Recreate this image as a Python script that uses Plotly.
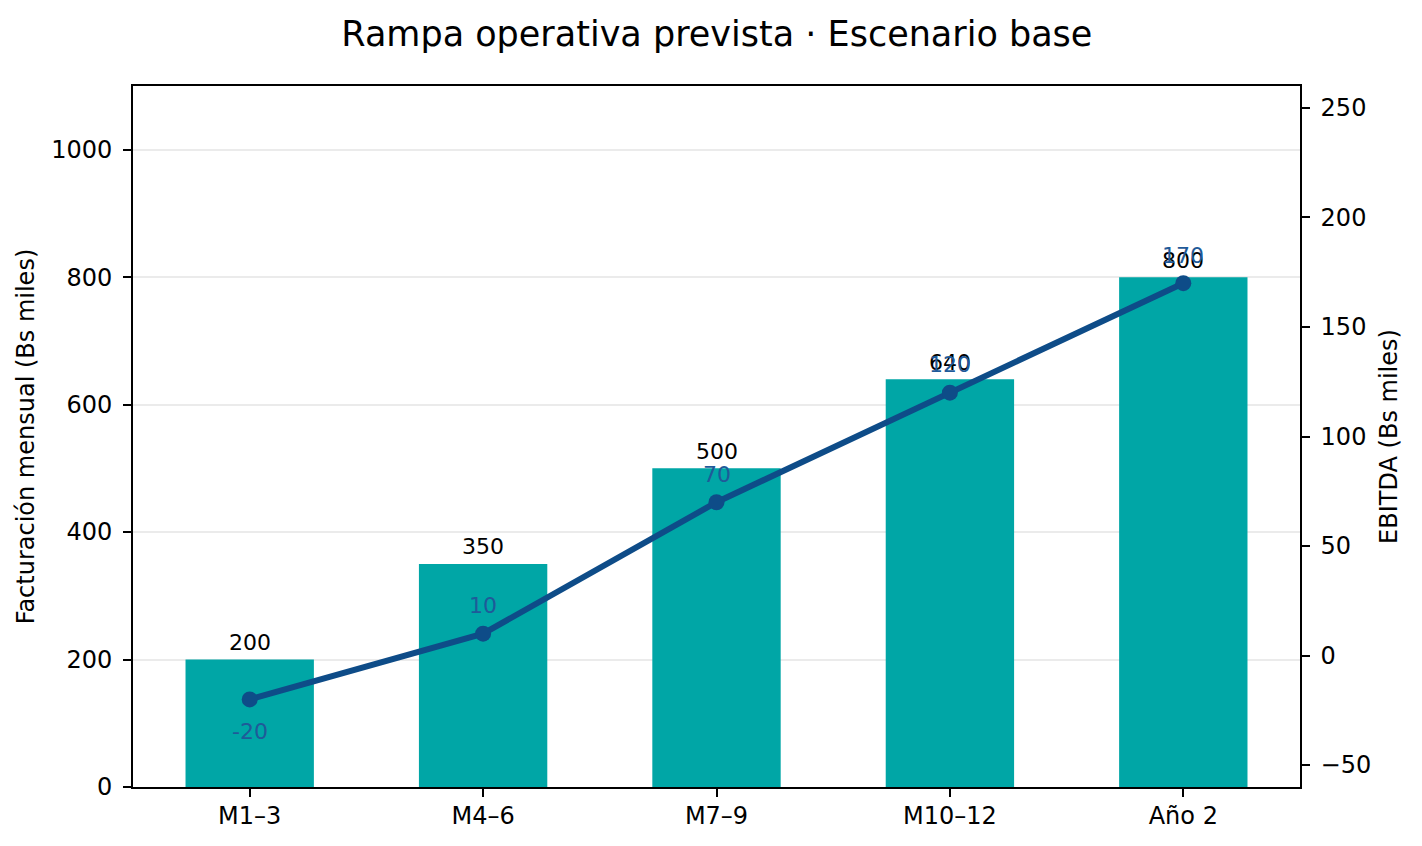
import plotly.graph_objects as go

# Datos de la rampa operativa (Bs miles)
periodos = ['M1–3', 'M4–6', 'M7–9', 'M10–12', 'Año 2']
facturacion = [200, 350, 500, 640, 800]
ebitda = [-20, 10, 70, 120, 170]

color_barra = '#00A6A6'
color_linea = '#0E4C88'
color_texto_ebitda = '#1F5A99'
fuente = 'DejaVu Sans'

fig = go.Figure()
fig.add_trace(go.Bar(
    x=periodos, y=facturacion, width=0.55,
    marker_color=color_barra, marker_line_width=0,
    name='Facturación', yaxis='y'
))
fig.add_trace(go.Scatter(
    x=periodos, y=ebitda, mode='lines+markers',
    line=dict(color=color_linea, width=6),
    marker=dict(color=color_linea, size=16),
    name='EBITDA', yaxis='y2'
))

# etiquetas de valores
anotaciones = []
for p, v in zip(periodos, facturacion):
    anotaciones.append(dict(x=p, y=v, xref='x', yref='y', text=str(v),
                            showarrow=False, yshift=17,
                            font=dict(family=fuente, size=22, color='black')))
for p, v in zip(periodos, ebitda):
    anotaciones.append(dict(x=p, y=v, xref='x', yref='y2', text=str(v),
                            showarrow=False, yshift=-32 if v < 0 else 28,
                            font=dict(family=fuente, size=22, color=color_texto_ebitda)))

# la página añade 8 px de margen al cuerpo, se compensa en los márgenes
fig.update_layout(
    width=1422, height=846,
    paper_bgcolor='white', plot_bgcolor='white',
    margin=dict(l=125, r=130, t=78, b=67),
    showlegend=False,
    font=dict(family=fuente, size=24, color='black'),
    title=dict(text='Rampa operativa prevista · Escenario base', x=0.4985, xanchor='center',
               y=0.969, yanchor='middle', font=dict(family=fuente, size=35)),
    xaxis=dict(range=[-0.5, 4.5], showline=True, linecolor='black', linewidth=1.6,
               mirror=True, ticks='outside', ticklen=8, tickwidth=1.6, tickcolor='black',
               ticklabelstandoff=-2,
               showgrid=False, tickfont=dict(size=24)),
    yaxis=dict(range=[0, 1100], dtick=200, showline=True, linecolor='black', linewidth=1.6,
               ticks='outside', ticklen=8, tickwidth=1.6, tickcolor='black',
               ticklabelstandoff=6, layer='above traces',
               showgrid=True, gridcolor='rgba(176,176,176,0.25)', gridwidth=1.5,
               zeroline=False,
               title=dict(text='Facturación mensual (Bs miles)', standoff=10,
                          font=dict(size=24)),
               tickfont=dict(size=24)),
    yaxis2=dict(range=[-60, 260], dtick=50, overlaying='y', side='right',
                showline=True, linecolor='black', linewidth=1.6,
                ticks='outside', ticklen=8, tickwidth=1.6, tickcolor='black',
                ticklabelstandoff=6,
                showgrid=False, zeroline=False, tickformat='d',
                title=dict(text='EBITDA (Bs miles)', standoff=10, font=dict(size=24)),
                tickfont=dict(size=24)),
    annotations=anotaciones,
)

fig.write_html("out.html")
